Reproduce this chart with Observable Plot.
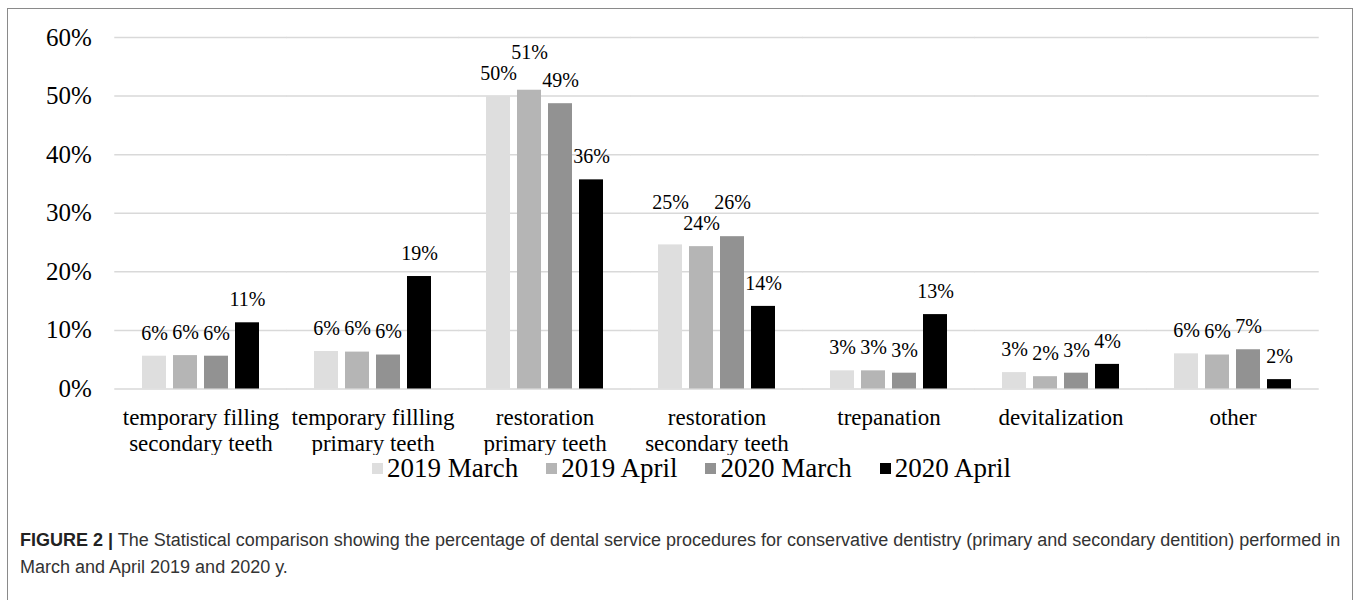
<!DOCTYPE html>
<html>
<head>
<meta charset="utf-8">
<script src="https://cdn.jsdelivr.net/npm/d3@7"></script>
<script src="https://cdn.jsdelivr.net/npm/@observablehq/plot@0.6"></script>
<style>
  html, body { margin: 0; padding: 0; background: #fff; }
  #frame { position: absolute; left: 7px; top: 8px; width: 1346px; height: 640px; border: 1.5px solid #8a8a8a; box-sizing: border-box; }
  #chart { position: absolute; left: 0; top: 0; }
  #chart svg, #chart svg text, #chart svg g { font-family: "Liberation Serif", "Times New Roman", serif !important; }
  #legend { position: absolute; left: 372px; top: 451px; display: flex; align-items: center; gap: 28px;
            font-family: "Liberation Serif", "Times New Roman", serif; font-size: 27px; line-height: 34px; color: #000; }
  #legend .item { display: flex; align-items: center; gap: 4px; }
  #legend .sw { width: 11px; height: 11px; display: inline-block; }
  #caption { position: absolute; left: 20px; top: 527px; font-family: "Liberation Sans", Arial, sans-serif;
             font-size: 18px; line-height: 27px; color: #333; white-space: nowrap; }
  #caption b { color: #222; }
</style>
</head>
<body>
<div id="frame"></div>
<div id="chart"></div>
<div id="legend"></div>
<div id="caption"><b>FIGURE 2 |</b> The Statistical comparison showing the percentage of dental service procedures for conservative dentistry (primary and secondary dentition) performed in<br>March and April 2019 and 2020 y.</div>
<script>
// ---- data ----
const categories = [
  "temporary filling secondary teeth",
  "temporary fillling primary teeth",
  "restoration primary teeth",
  "restoration secondary teeth",
  "trepanation",
  "devitalization",
  "other"
];
const categoryLabels = [
  "temporary filling\nsecondary teeth",
  "temporary fillling\nprimary teeth",
  "restoration\nprimary teeth",
  "restoration\nsecondary teeth",
  "trepanation",
  "devitalization",
  "other"
];
const seriesNames = ["2019 March", "2019 April", "2020 March", "2020 April"];
const march2019 = [5.6, 6.4, 49.9, 24.6, 3.1, 2.8, 6.0];
const april2019 = [5.7, 6.3, 51.0, 24.3, 3.1, 2.1, 5.8];
const march2020 = [5.6, 5.8, 48.7, 26.0, 2.7, 2.7, 6.7];
const april2020 = [11.3, 19.2, 35.7, 14.1, 12.7, 4.2, 1.6];
const yTicks = [0, 10, 20, 30, 40, 50, 60];
const colors = ["#dedede", "#b5b5b5", "#929292", "#000000"];

// ---- layout ----
const W = 1358, H = 455;
const mL = 113, mR = 38, mT = 37, mB = 66.5;
const fxPadInner = 0.31, fxPadOuter = 0.155;
const xPadInner = 0.22;
const serif = "Liberation Serif, Times New Roman, serif";
const groupStep = (W - mL - mR) / (categories.length - fxPadInner + 2 * fxPadOuter);
const gapHalf = groupStep * fxPadOuter;
const facetW = groupStep * (1 - fxPadInner);
const barStep = facetW / (seriesNames.length - xPadInner);
const ppu = (H - mT - mB) / (yTicks[yTicks.length - 1] - yTicks[0]);
const labelFont = 20, labelH = 21;

const seriesValues = [march2019, april2019, march2020, april2020];
const rows = [];
seriesNames.forEach((s, i) => categories.forEach((c, j) => rows.push({category: c, series: s, value: seriesValues[i][j]})));

// data labels with simple collision avoidance between neighbours
const textWidth = t => labelFont * [...t].reduce((a, ch) => a + (ch === "%" ? 0.833 : 0.5), 0);
const labelRows = [];
categories.forEach((c, j) => {
  const ls = seriesNames.map((s, i) => {
    const v = seriesValues[i][j];
    const label = Math.round(v) + "%";
    return {category: c, series: s, value: v, pos: v, label, w: textWidth(label)};
  });
  for (let k = 1; k < ls.length; k++) {
    const a = ls[k - 1], b = ls[k];
    if ((a.w + b.w) / 2 > barStep && Math.abs(a.pos - b.pos) * ppu < labelH) {
      if (b.value >= a.value) b.pos = a.pos + labelH / ppu;
      else a.pos = b.pos + labelH / ppu;
    }
  }
  labelRows.push(...ls);
});

const chart = Plot.plot({
  width: W, height: H,
  marginLeft: mL, marginRight: mR, marginTop: mT, marginBottom: mB,
  style: {fontFamily: serif, background: "transparent", color: "#000"},
  fx: {domain: categories, paddingInner: fxPadInner, paddingOuter: fxPadOuter, label: null},
  x: {domain: seriesNames, paddingInner: xPadInner, paddingOuter: 0, axis: null},
  y: {domain: [0, 60], axis: null},
  color: {domain: seriesNames, range: colors},
  marks: [
    Plot.ruleY(yTicks, {stroke: "#d9d9d9", strokeWidth: 1.5, insetLeft: -gapHalf, insetRight: -gapHalf}),
    Plot.barY(rows, {fx: "category", x: "series", y: "value", fill: "series"}),
    Plot.text(labelRows, {fx: "category", x: "series", y: "pos", text: "label", dy: -23, fontSize: labelFont, fontFamily: serif, fill: "#000"}),
    Plot.axisY({ticks: yTicks, tickFormat: d => d + "%", tickSize: 0, tickPadding: 23 + gapHalf, fontSize: 25, label: null}),
    Plot.axisFx({anchor: "bottom", tickFormat: c => categoryLabels[categories.indexOf(c)], tickSize: 0, tickPadding: 17.7, fontSize: 23, lineHeight: 1.13, label: null})
  ]
});
document.getElementById("chart").appendChild(chart);

// legend
const legend = document.getElementById("legend");
seriesNames.forEach((s, i) => {
  const item = document.createElement("span");
  item.className = "item";
  const sw = document.createElement("span");
  sw.className = "sw";
  sw.style.background = colors[i];
  const t = document.createElement("span");
  t.textContent = s;
  item.append(sw, t);
  legend.appendChild(item);
});
</script>
</body>
</html>
